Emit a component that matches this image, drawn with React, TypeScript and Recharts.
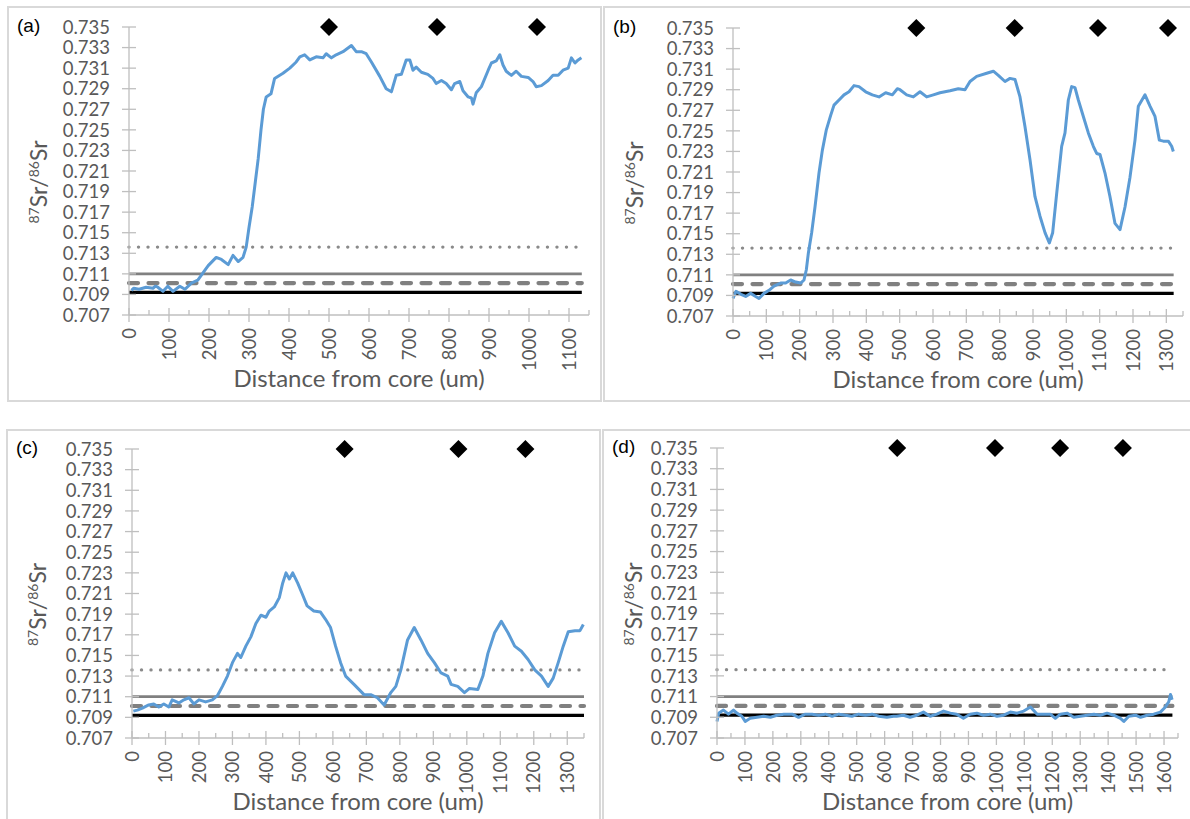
import React from 'react';
import { LineChart, Line, XAxis, YAxis } from 'recharts';

type Pt = [number, number];

// ---------- data ----------
const yTicks = [0.707, 0.709, 0.711, 0.713, 0.715, 0.717, 0.719, 0.721, 0.723, 0.725, 0.727, 0.729, 0.731, 0.733, 0.735];

const refDotted = 0.7136;
const refGrey = 0.711;
const refDashed = 0.7101;
const refBlack = 0.7092;

const profileA: Pt[] = [
  [6, 0.7094], [12, 0.7096], [25, 0.7095], [43, 0.7097], [60, 0.7096], [66, 0.7098], [72, 0.7097], [85, 0.7093],
  [97, 0.7098], [110, 0.7093], [127, 0.7098], [140, 0.7095], [156, 0.7101], [172, 0.7104], [185, 0.7111], [198, 0.7118],
  [218, 0.7126], [231, 0.7124], [248, 0.7119], [260, 0.7128], [273, 0.7122], [285, 0.7126], [293, 0.7136], [300, 0.7155],
  [308, 0.7175], [316, 0.72], [323, 0.7222], [330, 0.725], [336, 0.727], [343, 0.7282], [355, 0.7285], [364, 0.73],
  [385, 0.7305], [402, 0.731], [418, 0.7316], [427, 0.7321], [439, 0.7323], [452, 0.7318], [468, 0.7321], [485, 0.732],
  [493, 0.7324], [506, 0.732], [518, 0.7323], [535, 0.7326], [556, 0.7332], [568, 0.7326], [581, 0.7326], [593, 0.7324],
  [606, 0.7316], [627, 0.7302], [643, 0.729], [656, 0.7287], [668, 0.7303], [681, 0.7304], [693, 0.7318], [702, 0.7318],
  [710, 0.7308], [718, 0.7311], [731, 0.7306], [747, 0.7304], [760, 0.73], [768, 0.7295], [781, 0.7298], [793, 0.7295],
  [806, 0.7289], [814, 0.7295], [827, 0.7297], [835, 0.7288], [848, 0.7282], [856, 0.7281], [860, 0.7275], [868, 0.7286],
  [881, 0.7292], [898, 0.7308], [906, 0.7315], [918, 0.7317], [927, 0.7323], [935, 0.7313], [943, 0.7307], [956, 0.7303],
  [968, 0.7307], [981, 0.7302], [998, 0.7301], [1010, 0.7297], [1018, 0.7292], [1031, 0.7293], [1048, 0.7298], [1060, 0.7303],
  [1073, 0.7303], [1085, 0.7308], [1098, 0.731], [1106, 0.732], [1115, 0.7315], [1123, 0.7318], [1131, 0.732],
];

const profileB: Pt[] = [
  [0, 0.7087], [9, 0.7094], [24, 0.7091], [38, 0.7089], [53, 0.7092], [68, 0.7089], [78, 0.7087], [93, 0.7092],
  [108, 0.7095], [123, 0.7099], [143, 0.7102], [158, 0.7102], [173, 0.7105], [188, 0.7103], [203, 0.7102], [213, 0.7105],
  [220, 0.7115], [226, 0.7131], [236, 0.7151], [246, 0.7176], [258, 0.7209], [268, 0.7231], [280, 0.7251], [293, 0.7265],
  [303, 0.7275], [318, 0.728], [333, 0.7285], [348, 0.7288], [363, 0.7294], [378, 0.7293], [398, 0.7288], [418, 0.7285],
  [438, 0.7283], [458, 0.7287], [478, 0.7285], [493, 0.7291], [501, 0.729], [521, 0.7285], [541, 0.7283], [561, 0.7288],
  [581, 0.7283], [601, 0.7285], [621, 0.7287], [651, 0.7289], [676, 0.7291], [696, 0.729], [711, 0.7298], [731, 0.7303],
  [761, 0.7306], [781, 0.7308], [796, 0.7304], [816, 0.7298], [831, 0.7301], [846, 0.73], [861, 0.7283], [876, 0.7254],
  [891, 0.7222], [906, 0.7186], [921, 0.7167], [936, 0.7151], [949, 0.7141], [959, 0.7151], [971, 0.7189], [986, 0.7235],
  [996, 0.7248], [1006, 0.728], [1016, 0.7293], [1026, 0.7292], [1036, 0.728], [1051, 0.7264], [1066, 0.7248], [1081, 0.7235],
  [1091, 0.7228], [1101, 0.7227], [1116, 0.7209], [1131, 0.7186], [1146, 0.716], [1161, 0.7154], [1176, 0.7176], [1191, 0.7205],
  [1206, 0.7241], [1216, 0.7274], [1236, 0.7285], [1251, 0.7274], [1266, 0.7264], [1279, 0.7241], [1291, 0.724], [1306, 0.724],
  [1316, 0.7235], [1321, 0.723],
];

const profileC: Pt[] = [
  [4, 0.7096], [16, 0.7097], [31, 0.7099], [50, 0.7102], [65, 0.7103], [80, 0.71], [95, 0.7103], [110, 0.71],
  [120, 0.7107], [140, 0.7104], [155, 0.7107], [170, 0.7109], [185, 0.7103], [200, 0.7107], [220, 0.7105], [240, 0.7107],
  [255, 0.7111], [270, 0.712], [285, 0.713], [300, 0.7143], [315, 0.7152], [325, 0.7148], [340, 0.7159], [355, 0.7168],
  [370, 0.7181], [385, 0.7189], [400, 0.7187], [410, 0.7193], [425, 0.7197], [440, 0.7206], [450, 0.722], [460, 0.723],
  [470, 0.7224], [480, 0.723], [495, 0.722], [508, 0.721], [523, 0.7198], [543, 0.7193], [563, 0.7192], [578, 0.7185],
  [593, 0.7177], [608, 0.7159], [623, 0.7143], [638, 0.713], [663, 0.7122], [693, 0.7112], [713, 0.7112], [733, 0.7109],
  [753, 0.7102], [773, 0.7114], [788, 0.712], [803, 0.7136], [823, 0.7165], [843, 0.7177], [863, 0.7165], [883, 0.7152],
  [903, 0.7143], [923, 0.7133], [943, 0.713], [953, 0.7122], [973, 0.712], [993, 0.7114], [1008, 0.7118], [1033, 0.7117],
  [1048, 0.713], [1063, 0.7152], [1083, 0.7172], [1103, 0.7183], [1123, 0.7172], [1143, 0.7159], [1163, 0.7154], [1183, 0.7146],
  [1203, 0.7136], [1223, 0.713], [1243, 0.712], [1258, 0.7128], [1273, 0.7143], [1288, 0.7159], [1303, 0.7173], [1323, 0.7174],
  [1338, 0.7174], [1348, 0.718],
];

const profileD: Pt[] = [
  [0, 0.7086], [6, 0.7094], [23, 0.7097], [41, 0.7093], [59, 0.7097], [71, 0.7094], [89, 0.7091], [101, 0.7086],
  [119, 0.7089], [143, 0.709], [167, 0.7091], [191, 0.709], [215, 0.7092], [239, 0.7093], [269, 0.7093], [292, 0.709],
  [316, 0.7093], [340, 0.7093], [364, 0.7092], [388, 0.7093], [412, 0.7091], [436, 0.7093], [459, 0.7092], [483, 0.7091],
  [507, 0.7093], [531, 0.7092], [555, 0.7093], [579, 0.7091], [608, 0.709], [632, 0.7091], [643, 0.7091], [667, 0.7092],
  [691, 0.709], [715, 0.7092], [739, 0.7095], [763, 0.7091], [787, 0.7093], [811, 0.7096], [835, 0.7094], [858, 0.7093],
  [882, 0.7089], [906, 0.7093], [930, 0.7094], [954, 0.7092], [978, 0.7093], [1002, 0.7091], [1026, 0.7092], [1050, 0.7095],
  [1074, 0.7094], [1098, 0.7096], [1122, 0.71], [1146, 0.7093], [1170, 0.7093], [1193, 0.7093], [1211, 0.7089], [1229, 0.7093],
  [1253, 0.7094], [1277, 0.709], [1301, 0.7091], [1325, 0.7092], [1349, 0.7093], [1372, 0.7092], [1396, 0.7094], [1420, 0.7092],
  [1444, 0.7089], [1456, 0.7086], [1474, 0.7091], [1498, 0.7092], [1516, 0.709], [1540, 0.7092], [1563, 0.7093], [1587, 0.7095],
  [1605, 0.71], [1617, 0.7105], [1623, 0.7112], [1629, 0.7107],
];

const diamondsA = [500, 770, 1020];
const diamondsB = [550, 845, 1095, 1305];
const diamondsC = [635, 975, 1175];
const diamondsD = [645, 995, 1228, 1453];
const diamondLevel = 0.735;

// ---------- styling ----------
const AXIS = '#bfbfbf';
const TXT = '#595959';
const BLUE = '#5b9bd5';
const FONT = 'Lato, "Open Sans", sans-serif';

type Cfg = {
  label: string;
  box: { left: number; top: number; width: number; height: number };
  plot: { left: number; right: number; top: number; bottom: number };
  xMax: number;
  refEnd: number;
  profile: Pt[];
  diamonds: number[];
};

const panels: Cfg[] = [
  { label: '(a)', box: { left: 7, top: 6, width: 595, height: 396 }, plot: { left: 129, right: 589, top: 27, bottom: 315 }, xMax: 1150, refEnd: 1132, profile: profileA, diamonds: diamondsA },
  { label: '(b)', box: { left: 603, top: 6, width: 600, height: 396 }, plot: { left: 733, right: 1183, top: 28, bottom: 316 }, xMax: 1350, refEnd: 1322, profile: profileB, diamonds: diamondsB },
  { label: '(c)', box: { left: 6, top: 429, width: 595, height: 400 }, plot: { left: 132, right: 584, top: 449, bottom: 738 }, xMax: 1350, refEnd: 1350, profile: profileC, diamonds: diamondsC },
  { label: '(d)', box: { left: 602, top: 429, width: 600, height: 400 }, plot: { left: 717, right: 1178, top: 448, bottom: 738 }, xMax: 1650, refEnd: 1630, profile: profileD, diamonds: diamondsD },
];

const XTick = (props: any) => {
  const { x, payload, pb } = props;
  const v = payload.value;
  if (Math.round(v) % 100 !== 0) {
    return <line x1={x} x2={x} y1={pb - 5} y2={pb} stroke={AXIS} strokeWidth={1.3} />;
  }
  const ty = pb + 13;
  return (
    <g>
      <line x1={x} x2={x} y1={pb - 7} y2={pb + 7} stroke={AXIS} strokeWidth={1.3} />
      <text x={x} y={ty} transform={`rotate(-90 ${x} ${ty})`} textAnchor="end" dy="0.36em" fill={TXT} fontFamily={FONT} fontSize={18.5}>
        {Math.round(v)}
      </text>
    </g>
  );
};

const YTick = (props: any) => {
  const { y, payload, pl } = props;
  return (
    <g>
      <line x1={pl - 7} x2={pl + 7} y1={y} y2={y} stroke={AXIS} strokeWidth={1.3} />
      <text x={pl - 19} y={y} dy="0.36em" textAnchor="end" fill={TXT} fontFamily={FONT} fontSize={18.5}>
        {Number(payload.value).toFixed(3)}
      </text>
    </g>
  );
};

const XTitle = (props: any) => (
  <text x={props.tx} y={props.ty} textAnchor="middle" fill={TXT} fontFamily={FONT} fontSize={24}>
    Distance from core (um)
  </text>
);

const YTitle = (props: any) => (
  <text transform={`translate(${props.tx},${props.ty}) rotate(-90)`} textAnchor="middle" fill={TXT} fontFamily={FONT} fontSize={23}>
    <tspan fontSize={14} dy={-8}>87</tspan>
    <tspan dy={8}>Sr/</tspan>
    <tspan fontSize={14} dy={-8}>86</tspan>
    <tspan dy={8}>Sr</tspan>
  </text>
);

const Diamond = (props: any) => {
  const { cx, cy, index } = props;
  if (cx == null || cy == null) return <g key={`dm${index}`} />;
  const r = 9;
  return <polygon key={`dm${index}`} points={`${cx},${cy - r} ${cx + r},${cy} ${cx},${cy + r} ${cx - r},${cy}`} fill="#000" />;
};

function Panel({ cfg }: { cfg: Cfg }) {
  const { box, plot } = cfg;
  const pl = plot.left - box.left;
  const pr = plot.right - box.left;
  const pt = plot.top - box.top;
  const pb = plot.bottom - box.top;
  const xTicks: number[] = [];
  for (let v = 0; v <= cfg.xMax; v += 50) xTicks.push(v);
  const toXY = (arr: Pt[]) => arr.map(([x, y]) => ({ x, y }));
  const ref = (v: number) => [{ x: 0, y: v }, { x: cfg.refEnd, y: v }];
  const marks = cfg.diamonds.map((x) => ({ x, y: diamondLevel }));
  return (
    <>
      <div style={{ position: 'absolute', left: box.left, top: box.top, width: box.width, height: box.height, border: '2px solid #d9d9d9', boxSizing: 'border-box' }} />
      <div style={{ position: 'absolute', left: box.left, top: box.top }}>
        <LineChart width={box.width} height={box.height} margin={{ top: pt, right: box.width - pr, left: 0, bottom: 0 }}>
          <XAxis
            type="number"
            dataKey="x"
            domain={[0, cfg.xMax]}
            ticks={xTicks}
            interval={0}
            height={box.height - pb}
            axisLine={{ stroke: AXIS, strokeWidth: 1.3 }}
            tickLine={false}
            tick={<XTick pb={pb} />}
            label={<XTitle tx={(pl + pr) / 2} ty={pb + 72} />}
          />
          <YAxis
            type="number"
            dataKey="y"
            domain={[0.707, 0.735]}
            ticks={yTicks}
            interval={0}
            width={pl}
            axisLine={{ stroke: AXIS, strokeWidth: 1.3 }}
            tickLine={false}
            tick={<YTick pl={pl} />}
            label={<YTitle tx={40} ty={(pt + pb) / 2 + 11} />}
          />
          <Line data={ref(refDotted)} dataKey="y" stroke="#8a8a8a" strokeWidth={3.4} strokeDasharray="0.01 9.5" strokeLinecap="round" dot={false} activeDot={false} isAnimationActive={false} />
          <Line data={ref(refGrey)} dataKey="y" stroke="#808080" strokeWidth={2.8} dot={false} activeDot={false} isAnimationActive={false} />
          <Line data={ref(refDashed)} dataKey="y" stroke="#808080" strokeWidth={4.2} strokeDasharray="9 10.5" strokeLinecap="round" dot={false} activeDot={false} isAnimationActive={false} />
          <Line data={ref(refBlack)} dataKey="y" stroke="#000" strokeWidth={3.2} dot={false} activeDot={false} isAnimationActive={false} />
          <Line data={toXY(cfg.profile)} dataKey="y" stroke={BLUE} strokeWidth={3} strokeLinejoin="round" dot={false} activeDot={false} isAnimationActive={false} />
          <Line data={marks} dataKey="y" stroke="none" strokeWidth={0} dot={Diamond} activeDot={false} isAnimationActive={false} />
        </LineChart>
      </div>
      <div style={{ position: 'absolute', left: box.left + 10, top: plot.top - 11, fontFamily: '"Liberation Sans", Arial, sans-serif', fontSize: 19, lineHeight: '19px', color: '#000' }}>
        {cfg.label}
      </div>
    </>
  );
}

export default function App() {
  return (
    <div style={{ position: 'fixed', left: 0, top: 0, width: 1190, height: 819, overflow: 'hidden', background: '#fff' }}>
      {panels.map((p) => (
        <Panel key={p.label} cfg={p} />
      ))}
    </div>
  );
}
